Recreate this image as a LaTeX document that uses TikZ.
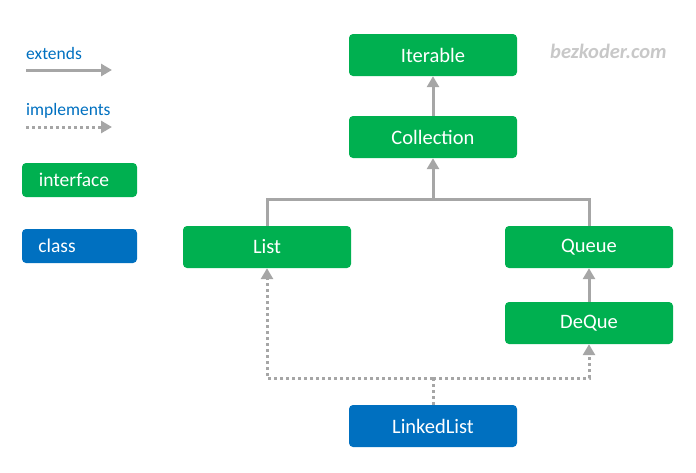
\documentclass[tikz,border=0pt]{standalone}
\usepackage{fontspec}
\setmainfont{Carlito}
\usetikzlibrary{arrows.meta}
\definecolor{igreen}{HTML}{00B050}
\definecolor{cblue}{HTML}{0070C0}
\definecolor{lgray}{HTML}{A6A6A6}
\definecolor{wgray}{HTML}{C8C8C8}
\tikzset{
  box/.style={rounded corners=4pt, minimum width=168pt, minimum height=42pt, inner sep=0pt, text=white, font=\fontsize{20.5}{22}\selectfont},
  ibox/.style={box, fill=igreen},
  cbox/.style={box, fill=cblue},
  lbox/.style={rounded corners=4pt, minimum width=115pt, minimum height=34pt, inner sep=0pt, text=white, font=\fontsize{19.5}{21}\selectfont},
  ext/.style={draw=lgray, line width=3pt, -{Triangle[width=12pt,length=11pt]}},
  extn/.style={draw=lgray, line width=3pt},
  impl/.style={draw=lgray, line width=3pt, dash pattern=on 3pt off 3pt, -{Triangle[width=12pt,length=11pt]}},
  impln/.style={draw=lgray, line width=3pt, dash pattern=on 3pt off 3pt},
  legtext/.style={text=cblue, font=\fontsize{17.5}{19}\selectfont, anchor=base west, inner sep=0pt},
}
\begin{document}
\begin{tikzpicture}[x=1pt,y=-1pt]
\useasboundingbox (0,0) rectangle (696,472);
% nodes
\node[ibox] (iter) at (433,55) {Iterable};
\node[ibox] (coll) at (433,137) {Collection};
\node[ibox] (list) at (267,247) {List};
\node[ibox] (queue) at (589,247) {Queue};
\node[ibox] (deque) at (589,323) {DeQue};
\node[cbox] (ll) at (433,426) {LinkedList};
% watermark
\node[text=wgray, font=\fontsize{20.5}{22}\selectfont\bfseries\itshape, anchor=base west, inner sep=0pt] (wm) at (550,58) {bezkoder.com};
% legend
\node[legtext] (lext) at (26,59) {extends};
\coordinate (ea) at (26,70);
\coordinate (eb) at (112,70);
\draw[ext] (ea) -- (eb);
\node[legtext] (limp) at (26,115) {implements};
\coordinate (ia) at (26,127);
\coordinate (ib) at (112,127);
\draw[impl] (ia) -- (ib);
\node[lbox, fill=igreen] (linter) at (79.5,180) {\hspace*{-11pt}interface};
\node[lbox, fill=cblue] (lclass) at (79.5,246) {\hspace*{-45pt}class};
% extends
\draw[ext] (coll.north) -- (iter.south);
\coordinate (j) at (433,199);
\draw[extn] (list.north) |- (j) -| (queue.north);
\draw[ext] (j) -- (coll.south);
\draw[ext] (deque.north) -- (queue.south);
% implements
\coordinate (k) at (433,378);
\draw[impln] (ll.north) -- (k);
\draw[impl] (k) -| (list.south);
\draw[impl] (k) -| (deque.south);
\end{tikzpicture}
\end{document}
